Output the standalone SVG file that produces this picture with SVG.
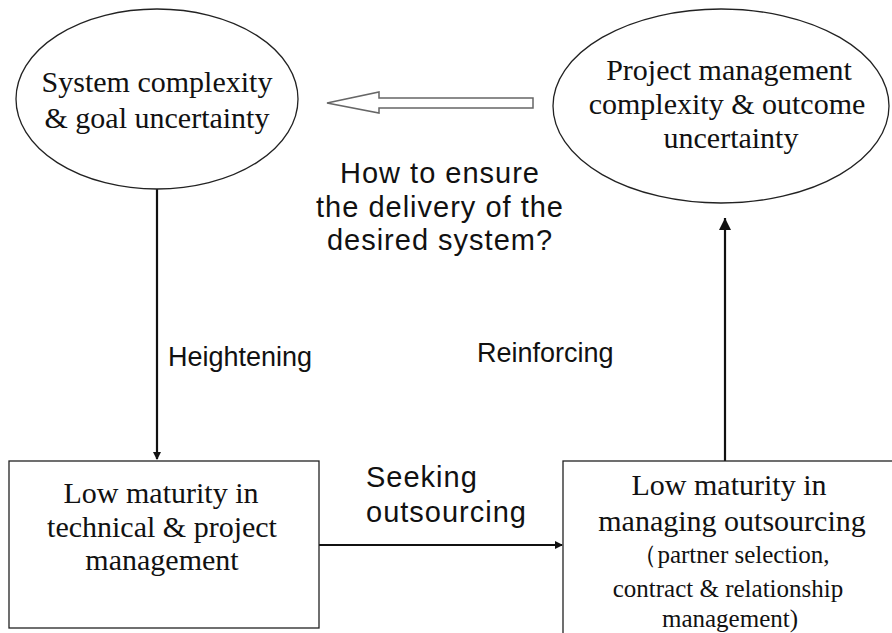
<svg xmlns="http://www.w3.org/2000/svg" width="892" height="633" viewBox="0 0 892 633">
  <style>
    .shape { fill: #fff; stroke: #222; stroke-width: 1.3; }
    .serif { font-family: "Liberation Serif", "Times New Roman", serif; fill: #111; text-anchor: middle; }
    .big { font-size: 30px; }
    .small { font-size: 25px; }
    .sans { font-family: "Liberation Sans", Arial, sans-serif; fill: #111; }
    .wide { font-size: 29px; letter-spacing: 1px; }
    .edge-label { font-size: 27px; }
    .link { stroke: #111; stroke-width: 2.2; fill: none; }
  </style>
  <defs>
    <marker id="head" markerWidth="8" markerHeight="8" refX="7" refY="4" orient="auto" markerUnits="userSpaceOnUse">
      <path d="M0,0 L8,4 L0,8 Z" fill="#111"/>
    </marker>
    <marker id="headBig" markerWidth="14" markerHeight="14" refX="12" refY="7" orient="auto" markerUnits="userSpaceOnUse">
      <path d="M0,1 L12,7 L0,13 Z" fill="#111"/>
    </marker>
  </defs>

  <rect width="892" height="633" fill="#fff"/>

  <g id="connectors">
    <!-- hollow block arrow pointing left -->
    <path d="M533,98 L379,98 L379,92 L327,103 L379,113 L379,108 L533,108 Z" fill="#fff" stroke="#666" stroke-width="1.5"/>
    <line class="link" x1="157" y1="189" x2="157" y2="459" marker-end="url(#head)"/>
    <line class="link" x1="319" y1="545" x2="562" y2="545" marker-end="url(#head)"/>
    <line class="link" x1="725" y1="461" x2="725" y2="218" marker-end="url(#headBig)"/>
  </g>

  <g id="node-system-complexity">
    <ellipse class="shape" cx="157" cy="99" rx="141" ry="90"/>
    <text class="serif big" x="157" y="92">System complexity</text>
    <text class="serif big" x="157" y="128">&amp; goal uncertainty</text>
  </g>

  <g id="node-pm-complexity">
    <ellipse class="shape" cx="721" cy="106" rx="168" ry="97"/>
    <text class="serif big" x="729" y="80">Project management</text>
    <text class="serif big" x="727" y="114">complexity &amp; outcome</text>
    <text class="serif big" x="731" y="148">uncertainty</text>
  </g>

  <g id="node-low-maturity-technical">
    <rect class="shape" x="9" y="461" width="310" height="167"/>
    <text class="serif big" x="161" y="503">Low maturity in</text>
    <text class="serif big" x="162" y="537">technical &amp; project</text>
    <text class="serif big" x="162" y="570">management</text>
  </g>

  <g id="node-low-maturity-outsourcing">
    <rect class="shape" x="563" y="461" width="340" height="190"/>
    <text class="serif big" x="729" y="495">Low maturity in</text>
    <text class="serif big" x="732" y="531">managing outsourcing</text>
    <text class="serif small" x="731" y="563">（partner selection,</text>
    <text class="serif small" x="728" y="597">contract &amp; relationship</text>
    <text class="serif small" x="730" y="627">management)</text>
  </g>

  <g id="labels">
    <text class="sans wide" x="440" y="183" text-anchor="middle">How to ensure</text>
    <text class="sans wide" x="440" y="217" text-anchor="middle">the delivery of the</text>
    <text class="sans wide" x="440" y="250" text-anchor="middle">desired system?</text>
    <text class="sans edge-label" x="168" y="366">Heightening</text>
    <text class="sans edge-label" x="477" y="362">Reinforcing</text>
    <text class="sans wide" x="366" y="487">Seeking</text>
    <text class="sans wide" x="366" y="522">outsourcing</text>
  </g>
</svg>
